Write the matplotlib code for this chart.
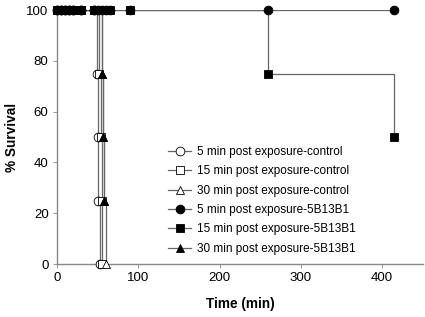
import matplotlib
matplotlib.use('Agg')
import matplotlib.pyplot as plt

plt.rcParams['font.family'] = ['Liberation Sans', 'DejaVu Sans']

# Survival data (time in min, % survival)
t_5min_ctrl = [0, 5, 10, 15, 20, 30, 45, 49, 50, 51, 53]
s_5min_ctrl = [100, 100, 100, 100, 100, 100, 100, 75, 50, 25, 0]
t_15min_ctrl = [0, 5, 10, 15, 20, 30, 45, 50, 52, 54, 55, 56]
s_15min_ctrl = [100, 100, 100, 100, 100, 100, 100, 100, 75, 50, 25, 0]
t_30min_ctrl = [0, 5, 10, 15, 20, 30, 45, 50, 55, 56, 57, 58, 60]
s_30min_ctrl = [100, 100, 100, 100, 100, 100, 100, 100, 100, 75, 50, 25, 0]

t_5min_5b = [0, 5, 10, 15, 20, 30, 45, 50, 55, 60, 65, 90, 260, 415]
s_5min_5b = [100, 100, 100, 100, 100, 100, 100, 100, 100, 100, 100, 100, 100, 100]
t_15min_5b = [0, 5, 10, 15, 20, 30, 45, 50, 55, 60, 65, 90, 260, 415]
s_15min_5b = [100, 100, 100, 100, 100, 100, 100, 100, 100, 100, 100, 100, 75, 50]
t_30min_5b = [0, 5, 10, 15, 20, 30, 45, 50, 55, 57, 58]
s_30min_5b = [100, 100, 100, 100, 100, 100, 100, 100, 75, 50, 25]

series = [
    (t_5min_ctrl, s_5min_ctrl, 'o', 'white', '5 min post exposure-control', 4),
    (t_15min_ctrl, s_15min_ctrl, 's', 'white', '15 min post exposure-control', 5),
    (t_30min_ctrl, s_30min_ctrl, '^', 'white', '30 min post exposure-control', 6),
    (t_5min_5b, s_5min_5b, 'o', 'black', '5 min post exposure-5B13B1', 7),
    (t_30min_5b, s_30min_5b, '^', 'black', '30 min post exposure-5B13B1', 8),
    (t_15min_5b, s_15min_5b, 's', 'black', '15 min post exposure-5B13B1', 9),
]
legend_order = [0, 1, 2, 3, 5, 4]
msize = {'o': 6.3, 's': 5.8, '^': 6.0}

fig = plt.figure(figsize=(4.25, 3.17), dpi=100)
ax = fig.add_axes([0.134, 0.167, 0.861, 0.801])

handles = []
labels = []
for t, s, m, fc, lab, z in series:
    ax.plot(t, s, drawstyle='steps-post', color='#666666', lw=0.9, zorder=2)
    ax.plot(t, s, ls='none', marker=m, ms=msize[m], mfc=fc, mec='black', mew=0.6,
            clip_on=False, zorder=z)
    h, = ax.plot([], [], color='#666666', lw=0.9, marker=m, ms=msize[m], mfc=fc,
                 mec='black', mew=0.6)
    handles.append(h)
    labels.append(lab)

ax.set_xlim(0, 450)
ax.set_ylim(0, 100)
ax.set_xticks([0, 100, 200, 300, 400])
ax.set_yticks([0, 20, 40, 60, 80, 100])
for side in ['top', 'right']:
    ax.spines[side].set_visible(False)
for side in ['left', 'bottom']:
    ax.spines[side].set_color('#888888')
    ax.spines[side].set_linewidth(1.0)
ax.tick_params(direction='out', length=3, width=0.6, color='#888888', labelsize=9.5, pad=3)

ax.set_xlabel('Time (min)', fontsize=9.8, fontweight='bold', labelpad=9)
ax.set_ylabel('% Survival', fontsize=9.8, fontweight='bold', labelpad=5)

ax.legend([handles[i] for i in legend_order], [labels[i] for i in legend_order],
          loc='lower left', bbox_to_anchor=(0.29, 0.018), frameon=False,
          fontsize=8.5, handlelength=2.0, handletextpad=0.5, labelspacing=0.62, borderaxespad=0)

fig.savefig('out.png', dpi=100)
